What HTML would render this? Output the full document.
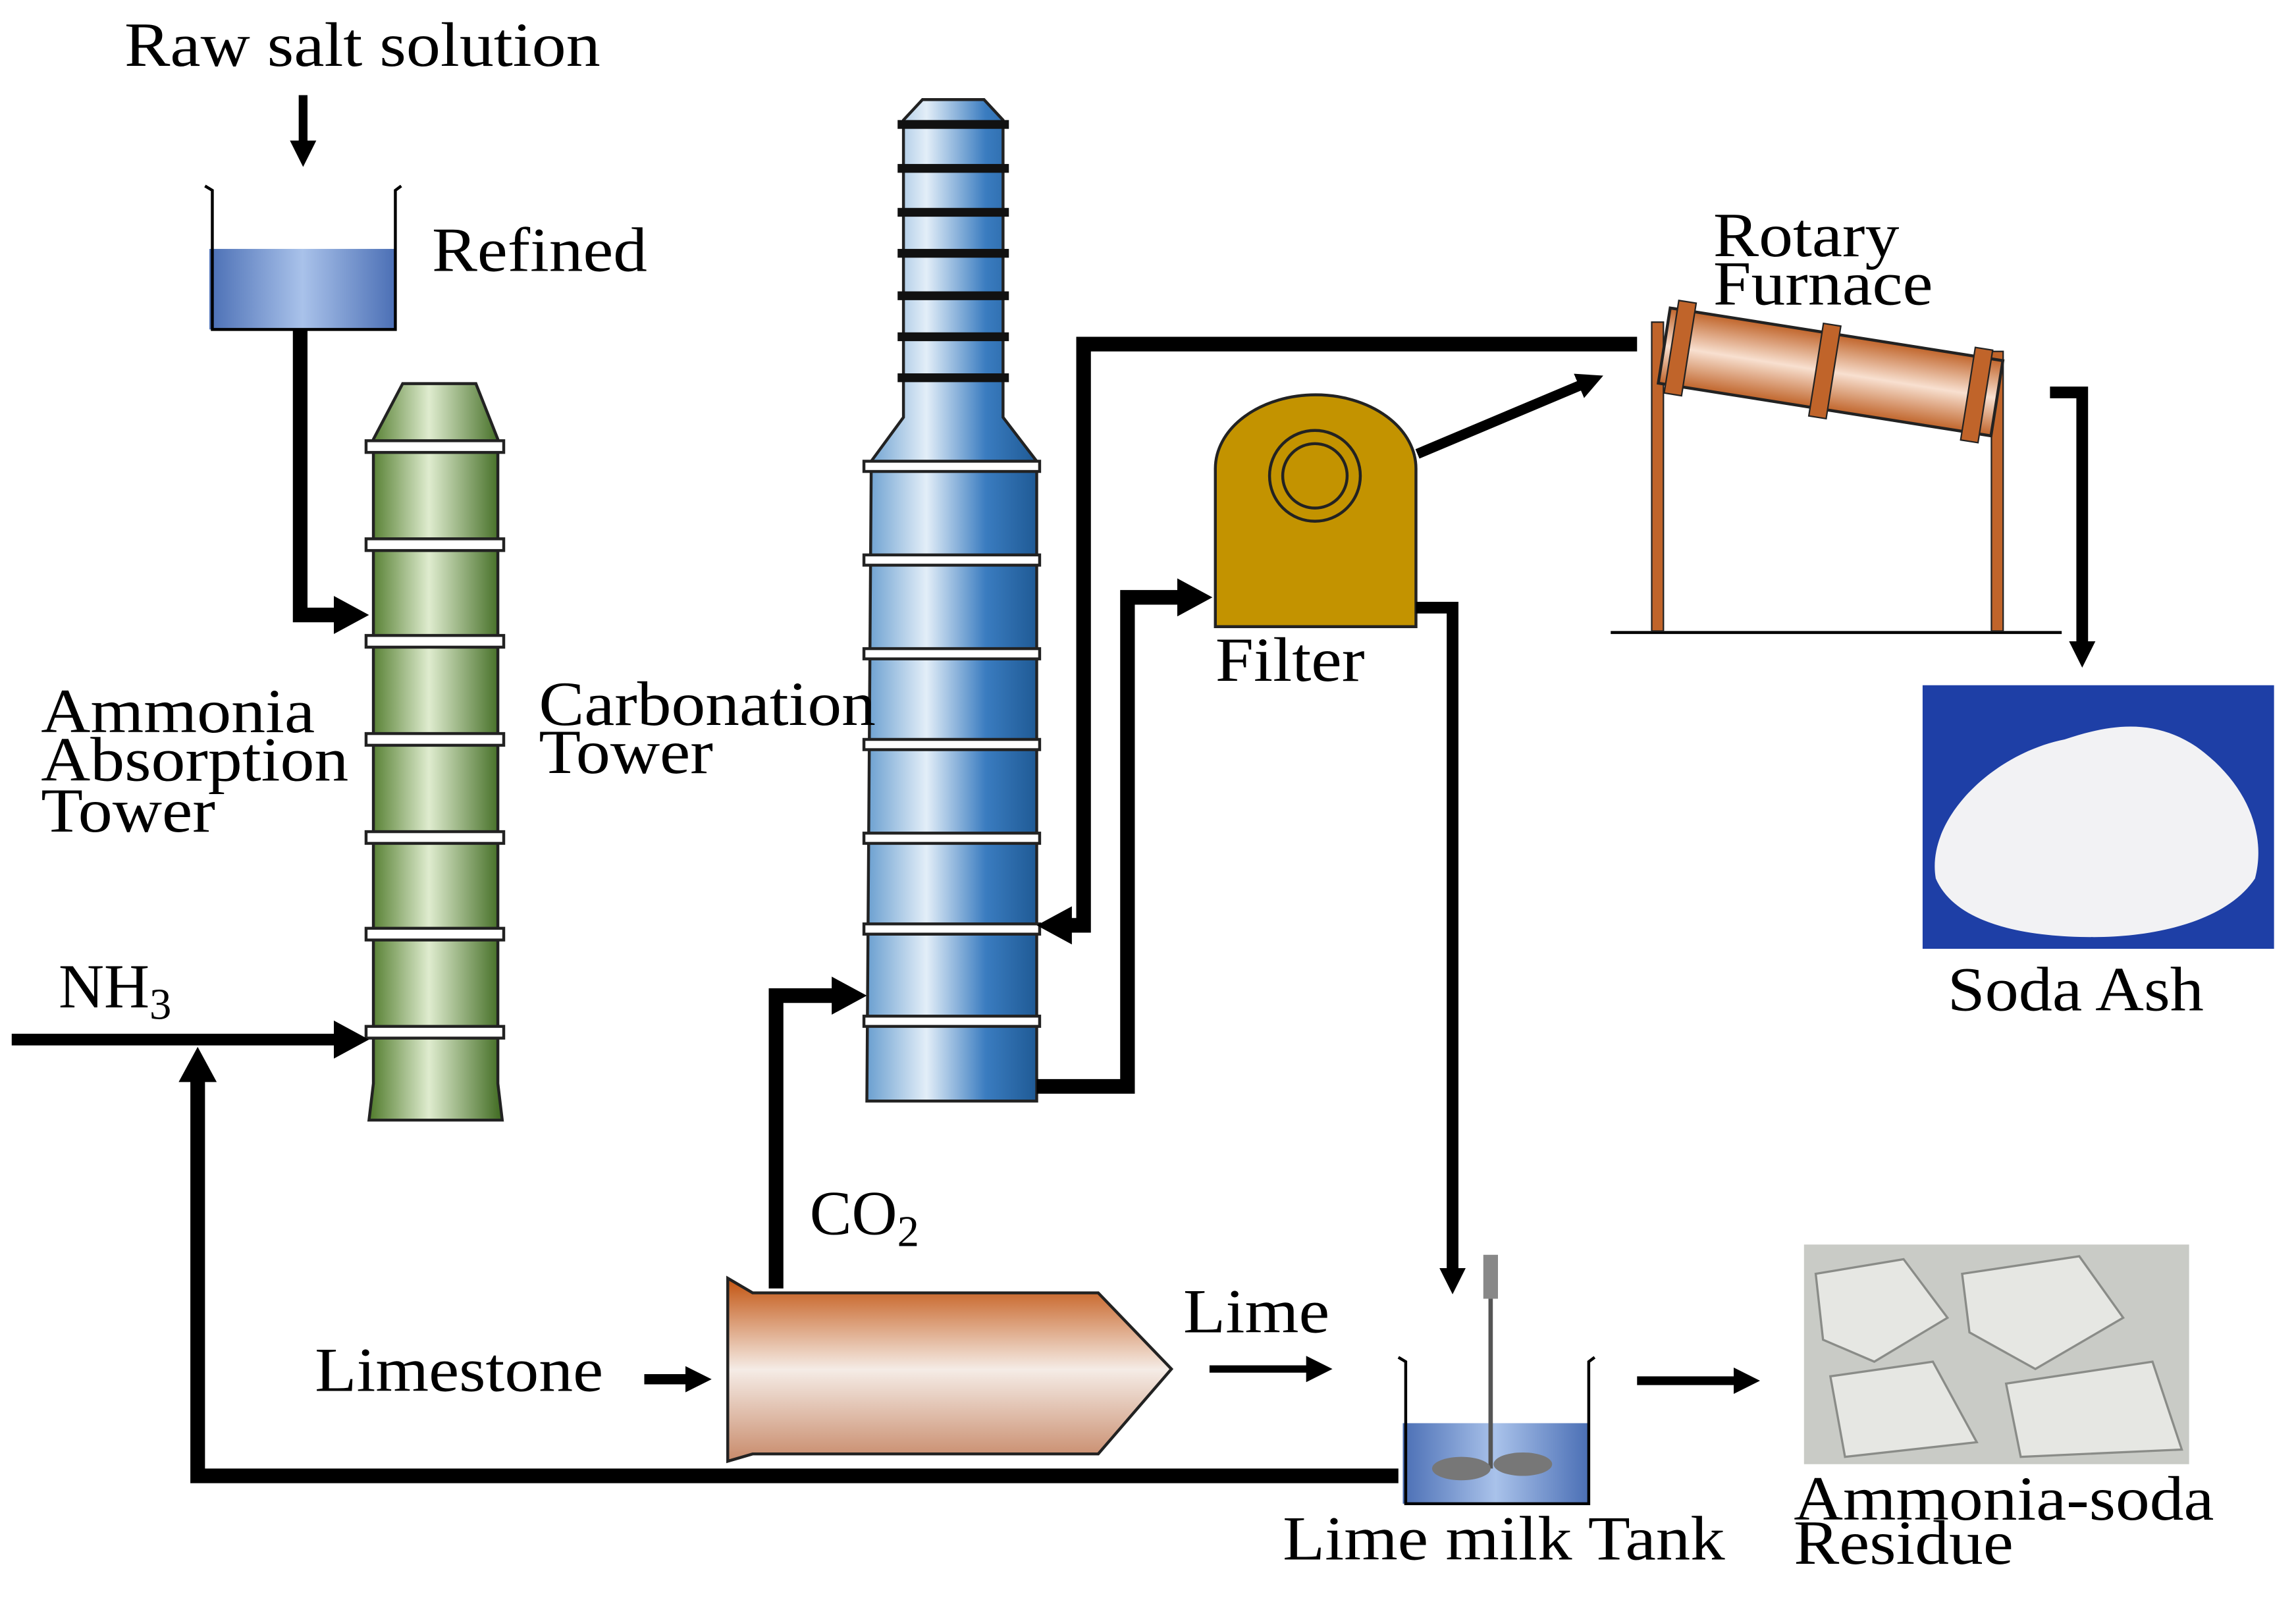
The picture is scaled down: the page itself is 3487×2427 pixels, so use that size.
<!DOCTYPE html>
<html><head><meta charset="utf-8"><style>
html,body{margin:0;padding:0;background:#fff}
svg{display:block}
text{font-family:"Liberation Serif",serif;font-size:43px;fill:#000}
</style></head><body>
<svg width="3487" height="2427" viewBox="0 0 1568 1091.4" preserveAspectRatio="none" xmlns="http://www.w3.org/2000/svg">
<defs>
<marker id="ah" markerWidth="24" markerHeight="26" refX="4" refY="13" orient="auto" markerUnits="userSpaceOnUse"><path d="M0,0 L24,13 L0,26 Z" fill="#000"/></marker>
<marker id="as" markerWidth="18" markerHeight="18" refX="4" refY="9" orient="auto" markerUnits="userSpaceOnUse"><path d="M0,0 L18,9 L0,18 Z" fill="#000"/></marker>
<linearGradient id="gG" x1="0" x2="1"><stop offset="0" stop-color="#4f7a2a"/><stop offset="0.45" stop-color="#dfeccf"/><stop offset="1" stop-color="#3f6a20"/></linearGradient>
<linearGradient id="gB" x1="0" x2="1"><stop offset="0" stop-color="#6a9fd0"/><stop offset="0.35" stop-color="#e3eef8"/><stop offset="0.7" stop-color="#3a7cc0"/><stop offset="1" stop-color="#1f5a95"/></linearGradient>
<linearGradient id="gL" x1="0" x2="1"><stop offset="0" stop-color="#4b6fb5"/><stop offset="0.5" stop-color="#a9c2ea"/><stop offset="1" stop-color="#4b6fb5"/></linearGradient>
<linearGradient id="gK" x1="0" y1="0" x2="0" y2="1"><stop offset="0" stop-color="#c2530f"/><stop offset="0.5" stop-color="#f5ece6"/><stop offset="1" stop-color="#c88a6a"/></linearGradient>
<linearGradient id="gF" x1="0" y1="0" x2="0" y2="1"><stop offset="0" stop-color="#c0642a"/><stop offset="0.5" stop-color="#f8e0d0"/><stop offset="1" stop-color="#c0642a"/></linearGradient>
</defs>

<text x="85" y="45" textLength="325" lengthAdjust="spacingAndGlyphs">Raw salt solution</text>
<line x1="207" y1="65" x2="207" y2="100" stroke="#000" stroke-width="6" marker-end="url(#as)"/>
<rect x="143" y="170" width="127" height="55" fill="url(#gL)"/>
<path d="M140,127 L145,130 L145,225 L270,225 L270,130 L274,127" fill="none" stroke="#000" stroke-width="2"/>
<text x="295" y="185" textLength="147" lengthAdjust="spacingAndGlyphs">Refined</text>
<polyline points="205,225 205,420 232,420" fill="none" stroke="#000" stroke-width="10" marker-end="url(#ah)"/>

<path d="M275,262 L325,262 L340,300 L340,740 L343,765 L252,765 L255,740 L255,300 Z" fill="url(#gG)" stroke="#222" stroke-width="2"/>
<g fill="#fff" stroke="#222" stroke-width="2">
<rect x="250" y="301" width="94" height="8"/><rect x="250" y="368" width="94" height="8"/><rect x="250" y="434" width="94" height="8"/><rect x="250" y="501" width="94" height="8"/><rect x="250" y="568" width="94" height="8"/><rect x="250" y="634" width="94" height="8"/><rect x="250" y="701" width="94" height="8"/>
</g>
<text x="28" y="500" textLength="187" lengthAdjust="spacingAndGlyphs">Ammonia</text><text x="28" y="533" textLength="210" lengthAdjust="spacingAndGlyphs">Absorption</text><text x="28" y="568" textLength="119" lengthAdjust="spacingAndGlyphs">Tower</text>
<text x="40" y="688">NH<tspan font-size="30" dy="8">3</tspan></text>
<line x1="8" y1="710" x2="232" y2="710" stroke="#000" stroke-width="8" marker-end="url(#ah)"/>
<polyline points="955,1008 135,1008 135,735" fill="none" stroke="#000" stroke-width="10" marker-end="url(#ah)"/>

<path d="M630,68 L672,68 L685,82 L685,285 L708,315 L708,752 L592,752 L595,315 L617,285 L617,82 Z" fill="url(#gB)" stroke="#222" stroke-width="2"/>
<g fill="#111">
<rect x="613" y="82" width="76" height="6"/><rect x="613" y="112" width="76" height="6"/><rect x="613" y="142" width="76" height="6"/><rect x="613" y="170" width="76" height="6"/><rect x="613" y="199" width="76" height="6"/><rect x="613" y="227" width="76" height="6"/><rect x="613" y="255" width="76" height="6"/>
</g>
<g fill="#fff" stroke="#222" stroke-width="2">
<rect x="590" y="315" width="120" height="7"/><rect x="590" y="379" width="120" height="7"/><rect x="590" y="443" width="120" height="7"/><rect x="590" y="505" width="120" height="7"/><rect x="590" y="569" width="120" height="7"/><rect x="590" y="631" width="120" height="7"/><rect x="590" y="694" width="120" height="7"/>
</g>
<text x="368" y="495" textLength="230" lengthAdjust="spacingAndGlyphs">Carbonation</text><text x="368" y="528" textLength="119" lengthAdjust="spacingAndGlyphs">Tower</text>

<polyline points="1118,235 740,235 740,632 728,632" fill="none" stroke="#000" stroke-width="10" marker-end="url(#ah)"/>
<polyline points="708,742 770,742 770,408 808,408" fill="none" stroke="#000" stroke-width="10" marker-end="url(#ah)"/>

<path d="M830,428 L830,320 A68,50 0 0 1 967,320 L967,428 Z" fill="#c39300" stroke="#222" stroke-width="2"/>
<circle cx="898" cy="325" r="31" fill="none" stroke="#222" stroke-width="2"/>
<circle cx="898" cy="325" r="22" fill="none" stroke="#222" stroke-width="2"/>
<text x="830" y="465" textLength="102" lengthAdjust="spacingAndGlyphs">Filter</text>
<line x1="968" y1="310" x2="1082" y2="262" stroke="#000" stroke-width="7" marker-end="url(#as)"/>
<polyline points="967,415 992,415 992,870" fill="none" stroke="#000" stroke-width="8" marker-end="url(#as)"/>

<line x1="1100" y1="432" x2="1408" y2="432" stroke="#000" stroke-width="2"/>
<rect x="1128" y="220" width="8" height="211" fill="#c0642a" stroke="#222" stroke-width="1"/>
<rect x="1360" y="240" width="8" height="191" fill="#c0642a" stroke="#222" stroke-width="1"/>
<g transform="rotate(9 1250 255)">
<rect x="1135" y="228" width="230" height="52" fill="url(#gF)" stroke="#222" stroke-width="2"/>
<rect x="1140" y="222" width="12" height="64" fill="#c0642a" stroke="#222" stroke-width="1"/>
<rect x="1240" y="222" width="12" height="64" fill="#c0642a" stroke="#222" stroke-width="1"/>
<rect x="1345" y="222" width="12" height="64" fill="#c0642a" stroke="#222" stroke-width="1"/>
</g>
<text x="1170" y="175" textLength="127" lengthAdjust="spacingAndGlyphs">Rotary</text><text x="1170" y="208" textLength="150" lengthAdjust="spacingAndGlyphs">Furnace</text>
<polyline points="1400,268 1422,268 1422,442" fill="none" stroke="#000" stroke-width="8" marker-end="url(#as)"/>

<rect x="1313" y="468" width="240" height="180" fill="#1e3fa6"/>
<path d="M1322,600 C1315,560 1360,515 1410,505 C1440,495 1470,490 1500,510 C1535,535 1548,570 1540,600 C1520,630 1470,640 1430,640 C1380,640 1335,630 1322,600 Z" fill="#f2f2f4"/>
<text x="1330" y="690" textLength="175" lengthAdjust="spacingAndGlyphs">Soda Ash</text>

<polyline points="530,880 530,680 572,680" fill="none" stroke="#000" stroke-width="10" marker-end="url(#ah)"/>
<text x="553" y="843">CO<tspan font-size="30" dy="8">2</tspan></text>

<path d="M497,873 L514,883 L750,883 L800,935 L750,993 L514,993 L497,998 Z" fill="url(#gK)" stroke="#222" stroke-width="2"/>
<text x="215" y="950" textLength="197" lengthAdjust="spacingAndGlyphs">Limestone</text>
<line x1="440" y1="942" x2="472" y2="942" stroke="#000" stroke-width="7" marker-end="url(#as)"/>
<text x="808" y="910" textLength="100" lengthAdjust="spacingAndGlyphs">Lime</text>
<line x1="826" y1="935" x2="896" y2="935" stroke="#000" stroke-width="5" marker-end="url(#as)"/>

<rect x="958" y="972" width="127" height="55" fill="url(#gL)"/>
<path d="M955,927 L960,930 L960,1027 L1085,1027 L1085,930 L1089,927" fill="none" stroke="#000" stroke-width="2"/>
<rect x="1013" y="857" width="10" height="30" fill="#888"/>
<line x1="1018" y1="887" x2="1018" y2="1003" stroke="#555" stroke-width="3"/>
<ellipse cx="998" cy="1003" rx="20" ry="8" fill="#777"/>
<ellipse cx="1040" cy="1000" rx="20" ry="8" fill="#777"/>
<text x="876" y="1065" textLength="302" lengthAdjust="spacingAndGlyphs">Lime milk Tank</text>
<line x1="1118" y1="943" x2="1188" y2="943" stroke="#000" stroke-width="6" marker-end="url(#as)"/>

<rect x="1232" y="850" width="263" height="150" fill="#c9cbc6"/>
<g fill="#e6e7e3" stroke="#8a8c88" stroke-width="1.5">
<path d="M1240,870 L1300,860 L1330,900 L1280,930 L1245,915 Z"/>
<path d="M1340,870 L1420,858 L1450,900 L1390,935 L1345,910 Z"/>
<path d="M1250,940 L1320,930 L1350,985 L1260,995 Z"/>
<path d="M1370,945 L1470,930 L1490,990 L1380,995 Z"/>
</g>
<text x="1225" y="1038" textLength="287" lengthAdjust="spacingAndGlyphs">Ammonia-soda</text><text x="1225" y="1068" textLength="150" lengthAdjust="spacingAndGlyphs">Residue</text>
</svg>
</body></html>
